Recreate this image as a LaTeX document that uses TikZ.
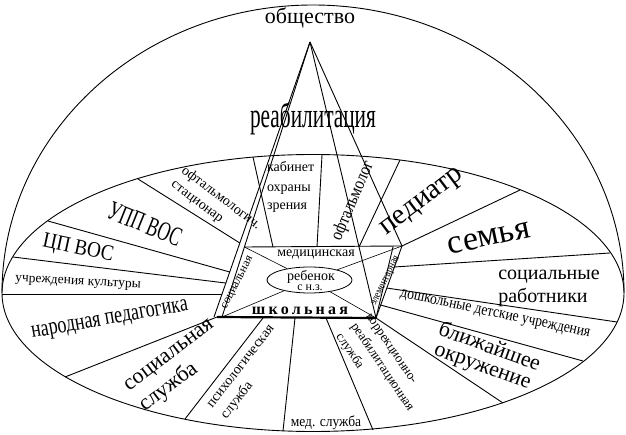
\documentclass[tikz,border=0pt]{standalone}
\usepackage{fontspec}
\setmainfont{LiberationSerif}[Extension=.ttf, UprightFont=*-Regular, BoldFont=*-Bold, ItalicFont=*-Italic, BoldItalicFont=*-BoldItalic]
\newfontfamily\spacedfont{LiberationSerif}[Extension=.ttf, UprightFont=*-Regular, BoldFont=*-Bold, LetterSpace=20]
\usetikzlibrary{shapes.geometric}
\begin{document}
\begin{tikzpicture}[x=1pt,y=-1pt,
  ln/.style={line width=0.9pt, line join=round},
  thin line/.style={line width=0.6pt},
  txt/.style={inner sep=0pt, outer sep=0pt},
  ]
\useasboundingbox (0,0) rectangle (626,435);
% outer shapes
\coordinate (C) at (313,293);
\draw[ln] (2,293) arc[start angle=180, end angle=0, x radius=311pt, y radius=288pt];
\draw[ln] (C) ellipse [x radius=311pt, y radius=138.5pt];
% pyramid and base
\coordinate (A) at (310,42);
\coordinate (BLo) at (214,317);
\coordinate (BL) at (222,317);
\coordinate (TL) at (244.4,247);
\coordinate (TR) at (402,246);
\coordinate (BR) at (376,318);
\coordinate (TRi) at (393,247);
\coordinate (BS) at (217,317);
\draw[ln] (A) -- (BLo);
\draw[ln] (A) -- (TL) -- (BL);
\draw[ln] (A) -- (TR) -- (BR);
\draw[ln] (A) -- (BR);
\draw[ln] (TRi) -- (BR);
\draw[ln] (TL) -- (TR);
\draw[line width=2.2pt] (BS) -- (BR);
% sector dividers
\coordinate (e1) at (2,294);    \coordinate (i1) at (222,294);
\coordinate (e2) at (13,257);   \coordinate (i2) at (225.5,283);
\coordinate (e3) at (48,221);   \coordinate (i3) at (229.7,272);
\coordinate (e4) at (138,179);  \coordinate (i4) at (239.8,243);
\coordinate (e5) at (253,157);  \coordinate (i5) at (273,247);
\coordinate (e6) at (322,155);  \coordinate (i6) at (317,247);
\coordinate (e7) at (400,160);  \coordinate (i7) at (359,247);
\coordinate (e8) at (520,190);
\coordinate (e9) at (610,253);  \coordinate (i9) at (394,267);
\coordinate (e10) at (617,322); \coordinate (i10) at (386.5,288);
\coordinate (e11) at (583,361); \coordinate (i11) at (380.5,305);
\coordinate (e12) at (503,403);
\coordinate (e13) at (373,430); \coordinate (i13) at (326,318);
\coordinate (e14) at (283,431); \coordinate (i14) at (295,318);
\coordinate (e15) at (185,419); \coordinate (i15) at (263,318);
\coordinate (e16) at (65,377);
\foreach \a/\b in {e1/i1,e2/i2,e3/i3,e4/i4,e5/i5,e6/i6,e7/i7,e8/TR,e9/i9,e10/i10,e11/i11,e12/BR,e13/i13,e14/i14,e15/i15,e16/BS}
  \draw[ln] (\a) -- (\b);
% child ellipse
\node[draw, ellipse, line width=0.8pt, minimum width=85pt, minimum height=26pt, inner sep=0pt] (child) at (309.5,280) {};
\foreach \c in {TL,TR,BL,BR} \draw[thin line] (child) -- (\c);
% texts
\node[txt, anchor=base, font=\fontsize{22}{22}\selectfont] (t1) at (310,24) {общество};
\node[txt, anchor=base, font=\fontsize{35}{35}\selectfont] (t2) at (313,128) {\scalebox{0.61}[1]{реабилитация}};
\node[txt, anchor=base west, font=\fontsize{14}{14}\selectfont] (t3) at (267,172) {кабинет};
\node[txt, anchor=base west, font=\fontsize{14}{14}\selectfont] (t4) at (267,192) {охраны};
\node[txt, anchor=base west, font=\fontsize{14}{14}\selectfont] (t5) at (267,210) {зрения};
\node[txt, align=left, rotate=-37, font=\fontsize{14}{17}\selectfont] (t6) at (216,205) {офтальмологич.\\стационар};
\node[txt, rotate=-22, font=\fontsize{27}{27}\selectfont] (t7) at (145,224) {\scalebox{0.64}[1]{УПП ВОС}};
\node[txt, rotate=-12, font=\fontsize{22}{22}\selectfont] (t8) at (78,249) {\scalebox{0.87}[1]{ЦП ВОС}};
\node[txt, rotate=-3, font=\fontsize{13.5}{13.5}\selectfont] (t9) at (78,283) {учреждения культуры};
\node[txt, rotate=10, font=\fontsize{24}{24}\selectfont] (t10) at (110,321) {\scalebox{0.75}[1]{народная педагогика}};
\node[txt, align=left, rotate=37, font=\fontsize{22}{26}\selectfont] (t11) at (178,367) {социальная\\служба};
\node[txt, align=left, rotate=52, font=\fontsize{14}{18}\selectfont] (t12) at (249,373) {психологическая\\служба};
\node[txt, anchor=base, font=\fontsize{15}{15}\selectfont] (t13) at (326,426) {\scalebox{0.9}[1]{мед. служба}};
\node[txt, align=left, rotate=-56, font=\fontsize{13}{18}\selectfont] (t14) at (381,368) {коррекционно-\\реабилитационная\\служба};
\node[txt, align=center, rotate=-20, font=\fontsize{22}{20}\selectfont] (t15) at (486,357) {ближайшее\\окружение};
\node[txt, rotate=-12, font=\fontsize{16}{16}\selectfont] (t16) at (495,315) {\scalebox{0.85}[1]{дошкольные детские учреждения}};
\node[txt, anchor=base, font=\fontsize{20}{20}\selectfont] (t17) at (549,280) {социальные};
\node[txt, anchor=base, font=\fontsize{20}{20}\selectfont] (t18) at (543,303) {работники};
\node[txt, rotate=12, font=\fontsize{34}{34}\selectfont] (t19) at (489,238) {семья};
\node[txt, rotate=37, font=\fontsize{29}{29}\selectfont] (t20) at (423,203) {педиатр};
\node[txt, rotate=67, font=\fontsize{18}{18}\selectfont] (t21) at (353,201) {\scalebox{0.85}[1]{офтальмолог}};
\node[txt, anchor=base, font=\fontsize{14}{14}\selectfont] (t22) at (316,257) {медицинская};
\node[txt, anchor=base, font=\fontsize{14}{14}\selectfont] (t23) at (311,281) {ребенок};
\node[txt, anchor=base, font=\fontsize{12}{12}\selectfont] (t24) at (310,291) {с н.з.};
\node[txt, anchor=base, font=\fontsize{16}{16}\spacedfont\bfseries] (t25) at (300,315) {школьная};
\node[txt, rotate=63, font=\fontsize{12}{12}\selectfont] (t26) at (238,283) {социальная};
\node[txt, rotate=64, font=\fontsize{11}{11}\selectfont] (t27) at (386,281) {\scalebox{0.85}[1]{элементарная}};
\end{tikzpicture}
\end{document}
